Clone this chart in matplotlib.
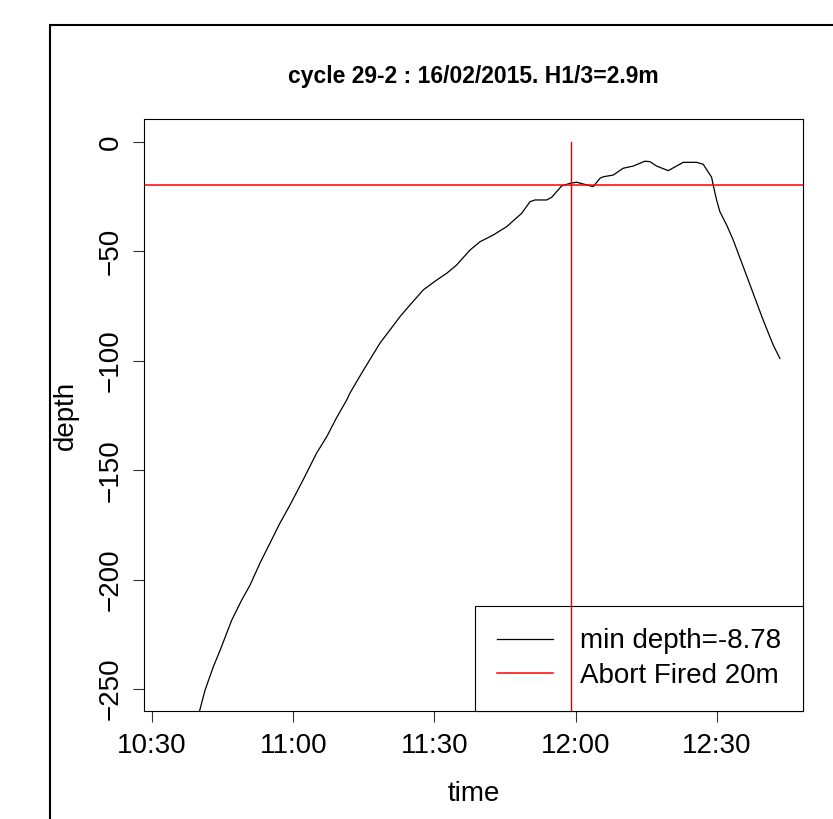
import matplotlib
matplotlib.use('Agg')
import matplotlib.pyplot as plt
import matplotlib.dates as mdates
import matplotlib.patches as patches
import pandas as pd

# depth profile, time given as minutes after 10:30
minutes = [8.5, 10.05, 11.26, 13.02, 14.44, 16.93, 19.05, 20.82, 22.94, 25.06,
           27.19, 29.31, 32.07, 34.98, 37.11, 39.23, 41.36, 42.06, 44.54, 46.67,
           48.43, 50.55, 52.68, 54.80, 57.63, 60.47, 62.60, 64.72, 67.54, 69.67,
           72.49, 75.34, 78.53, 80.29, 81.35, 83.84, 84.90, 87.02, 88.78, 90.21,
           93.73, 95.16, 95.86, 97.98, 100.11, 102.23, 104.71, 105.78, 107.20, 109.66,
           112.85, 115.70, 117.10, 118.88, 119.22, 119.94, 120.65, 122.07, 123.47, 125.60,
           127.72, 129.84, 131.97, 133.39]
depth = [-268.0, -260.4, -250.5, -239.8, -232.4, -218.5, -209.3, -202.5, -192.4, -183.3,
         -174.1, -165.9, -154.5, -142.1, -134.7, -125.9, -117.9, -114.7, -105.6, -98.1,
         -91.9, -85.9, -79.8, -74.5, -67.6, -63.1, -60.0, -56.2, -49.4, -45.6,
         -42.5, -38.7, -32.6, -27.3, -26.5, -26.5, -25.3, -20.1, -18.9, -18.4,
         -20.4, -16.6, -15.9, -15.1, -12.0, -11.0, -8.78, -9.0, -11.0, -13.1,
         -9.3, -9.3, -10.2, -16.1, -19.7, -26.5, -31.9, -37.9, -44.8, -57.0,
         -69.2, -81.4, -92.8, -98.9]

abort_depth = -19.5
abort_minute = 89.0
title = 'cycle 29-2 : 16/02/2015. H1/3=2.9m'
labels = ['min depth=-8.78', 'Abort Fired 20m']

start = pd.Timestamp('2015-02-16 10:30:00')


def main():
    plt.rcParams['font.family'] = ['Liberation Sans', 'DejaVu Sans']

    t = start + pd.to_timedelta(minutes, unit='m')
    t_abort = start + pd.to_timedelta(abort_minute, unit='m')

    fig = plt.figure(figsize=(8.33, 8.19), dpi=100)
    ax = fig.add_axes([0.1729, 0.1319, 0.7911, 0.7228])

    ax.plot(t, depth, color='black', lw=0.9, label=labels[0])
    ax.axhline(abort_depth, color='#ff0000', lw=1.1, label=labels[1])
    # vertical line is drawn after the legend in the original, so it crosses it
    ax.plot([t_abort, t_abort], [0, -300], color='#e00000', lw=1.0, zorder=6)

    ax.set_xlim(start + pd.to_timedelta(-1.7, unit='m'),
                start + pd.to_timedelta(138.3, unit='m'))
    ax.set_ylim(-260, 10.5)

    ax.xaxis.set_major_locator(mdates.MinuteLocator(byminute=[0, 30]))
    ax.xaxis.set_major_formatter(mdates.DateFormatter('%H:%M'))
    ax.set_yticks([0, -50, -100, -150, -200, -250])

    for s in ax.spines.values():
        s.set_linewidth(0.8)

    ax.tick_params(axis='both', length=7.9, width=0.8, color='#333333',
                   labelsize=20)
    ax.tick_params(axis='x', pad=7.9)
    ax.tick_params(axis='y', pad=6.5)
    for lab in ax.get_yticklabels():
        lab.set_rotation(90)
        lab.set_va('center')

    ax.set_xlabel('time', fontsize=20)
    ax.set_ylabel('depth', fontsize=20)
    ax.xaxis.set_label_coords(0.5, -0.1176)
    ax.yaxis.set_label_coords(-0.0986, 0.5)

    fig.text(473.5 / 833, 1 - 83 / 819, title, ha='center', va='baseline',
             fontsize=16.5, fontweight='bold')

    leg = ax.legend(loc='lower right', fontsize=20, borderaxespad=0,
                    fancybox=False, framealpha=1, edgecolor='black',
                    borderpad=0.8, handlelength=2.0, handletextpad=0.96,
                    labelspacing=0.3)
    leg.get_frame().set_linewidth(0.8)

    # outer frame of the original device, runs off the right and bottom
    border = patches.Rectangle((50 / 833, -0.1), 1.0, 1 - 25 / 819 + 0.1,
                               transform=fig.transFigure, fill=False,
                               lw=1.5, edgecolor='black', clip_on=False)
    fig.patches.append(border)

    fig.savefig('out.png', dpi=100)


if __name__ == '__main__':
    main()
